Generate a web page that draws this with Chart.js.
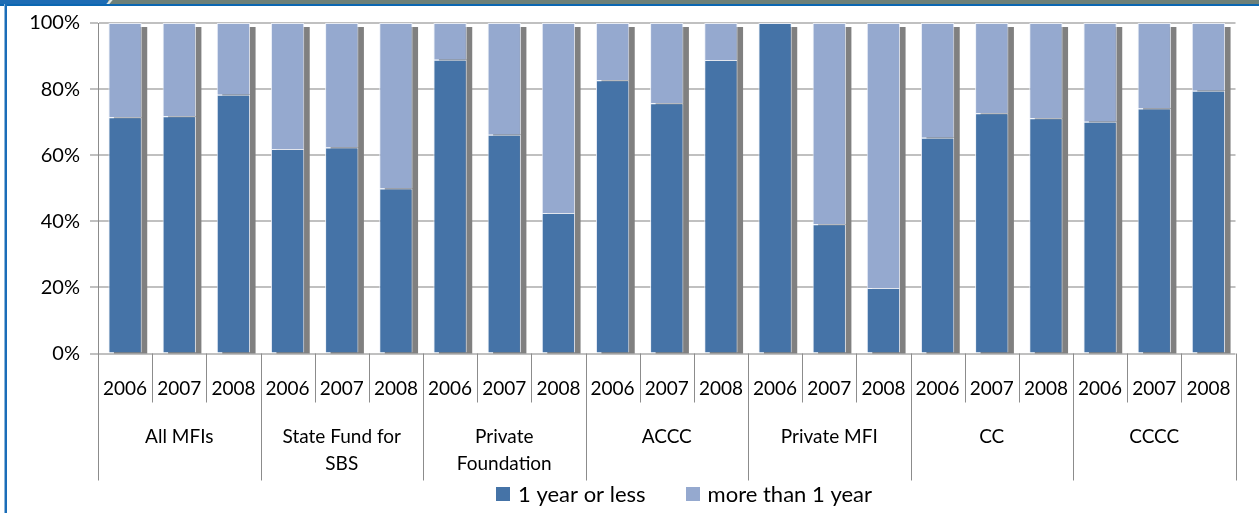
<!DOCTYPE html>
<html>
<head>
<meta charset="utf-8">
<script src="https://cdn.jsdelivr.net/npm/chart.js@4"></script>
<style>
  html, body { margin: 0; padding: 0; background: #fff; }
  #wrap { position: relative; width: 1259px; height: 513px; overflow: hidden; }
  #plot { position: absolute; left: 0; top: 0; }
  .frame { position: absolute; pointer-events: none; }
</style>
</head>
<body>
<div id="wrap">
  <canvas id="plot" width="1259" height="513"></canvas>
  <div class="frame" style="left:0;top:0;width:1259px;height:4px;background:#6d8078;"></div>
  <div class="frame" style="left:0;top:0;width:108px;height:4px;background:#1d6cb4;"></div>
  <div class="frame" style="left:108px;top:0;width:3px;height:4px;background:#dfe6e3;transform:skewX(-40deg);"></div>
  <div class="frame" style="left:0;top:4px;width:1259px;height:2px;background:#0b67b2;"></div>
  <div class="frame" style="left:4px;top:4px;width:1px;height:509px;background:#8db6da;"></div>
  <div class="frame" style="left:5px;top:4px;width:2px;height:509px;background:#1b6db8;"></div>
</div>
<script>
const years = ['2006', '2007', '2008'];
const groups = [
  ['All MFIs'],
  ['State Fund for', 'SBS'],
  ['Private', 'Foundation'],
  ['ACCC'],
  ['Private MFI'],
  ['CC'],
  ['CCCC']
];
const categories = groups.flatMap((g) => years.map((y) => g.join(' ') + ' ' + y));

const oneYearOrLess = [
  71.5, 71.8, 78.3,
  61.9, 62.3, 49.9,
  88.9, 66.2, 42.5,
  82.7, 75.7, 88.8,
  100, 39.1, 19.8,
  65.3, 72.7, 71.2,
  70.1, 74.1, 79.5
];
const moreThanOneYear = [
  28.5, 28.2, 21.7,
  38.1, 37.7, 50.1,
  11.1, 33.8, 57.5,
  17.3, 24.3, 11.2,
  0, 60.9, 80.2,
  34.7, 27.3, 28.8,
  29.9, 25.9, 20.5
];
const yTicks = [0, 20, 40, 60, 80, 100];

const COLORS = {
  dark: '#4573a7',
  light: '#95a9cf',
  shadow: '#808080',
  grid: '#c0c0c0',
  axis: '#8c8c8c',
  text: '#000'
};
const FONT_FAMILY = 'Lato, "Liberation Sans", sans-serif';
const LEGEND = { centerX: 684, centerY: 495, box: 14, textGap: 8, itemGap: 40 };

// gray drop shadow behind each stacked column
const shadowPlugin = {
  id: 'columnShadow',
  beforeDatasetsDraw(chart) {
    const { ctx, chartArea } = chart;
    const top = chart.getDatasetMeta(1).data;
    const bottom = chart.getDatasetMeta(0).data;
    ctx.save();
    ctx.fillStyle = COLORS.shadow;
    top.forEach((bar, i) => {
      const w = bar.width;
      const yTop = Math.min(bar.y, bottom[i].y) + 4;
      ctx.fillRect(bar.x - w / 2 + 5.5, yTop, w, chartArea.bottom - yTop);
    });
    ctx.restore();
  }
};

// two level category axis (years, then group names) and the legend row
const groupAxisPlugin = {
  id: 'groupAxis',
  afterDraw(chart) {
    const { ctx, chartArea } = chart;
    const n = categories.length;
    const step = (chartArea.right - chartArea.left) / n;
    const base = chartArea.bottom;
    ctx.save();
    ctx.strokeStyle = COLORS.axis;
    ctx.lineWidth = 1;
    for (let i = 0; i <= n; i++) {
      const x = Math.round(chartArea.left + i * step) + 0.5;
      const len = i % years.length === 0 ? 127 : 49;
      ctx.beginPath();
      ctx.moveTo(x, base);
      ctx.lineTo(x, base + len);
      ctx.stroke();
    }
    ctx.fillStyle = COLORS.text;
    ctx.font = '19px ' + FONT_FAMILY;
    ctx.textAlign = 'center';
    ctx.textBaseline = 'middle';
    for (let i = 0; i < n; i++) {
      ctx.fillText(years[i % years.length], chartArea.left + (i + 0.5) * step, base + 35);
    }
    groups.forEach((lines, g) => {
      const cx = chartArea.left + (g * years.length + years.length / 2) * step;
      lines.forEach((line, k) => {
        ctx.fillText(line, cx, base + 83 + k * 27);
      });
    });

    // legend
    ctx.font = '22px ' + FONT_FAMILY;
    ctx.textAlign = 'left';
    const items = chart.data.datasets.map((ds) => ({
      label: ds.label,
      color: ds.backgroundColor,
      width: LEGEND.box + LEGEND.textGap + ctx.measureText(ds.label).width
    }));
    const total = items.reduce((s, it) => s + it.width, 0) + LEGEND.itemGap * (items.length - 1);
    let x = LEGEND.centerX - total / 2;
    items.forEach((it) => {
      ctx.fillStyle = it.color;
      ctx.fillRect(Math.round(x), Math.round(LEGEND.centerY - LEGEND.box / 2 - 1), LEGEND.box, LEGEND.box);
      ctx.fillStyle = COLORS.text;
      ctx.fillText(it.label, x + LEGEND.box + LEGEND.textGap, LEGEND.centerY);
      x += it.width + LEGEND.itemGap;
    });
    ctx.restore();
  }
};

new Chart(document.getElementById('plot'), {
  type: 'bar',
  data: {
    labels: categories,
    datasets: [
      {
        label: '1 year or less',
        data: oneYearOrLess,
        backgroundColor: COLORS.dark,
        borderColor: 'rgba(235,240,248,0.9)',
        borderWidth: 1
      },
      {
        label: 'more than 1 year',
        data: moreThanOneYear,
        backgroundColor: COLORS.light,
        borderColor: 'rgba(235,240,248,0.9)',
        borderWidth: 1
      }
    ]
  },
  options: {
    responsive: false,
    animation: false,
    events: [],
    layout: { padding: { top: 23, right: 23.5, bottom: 0, left: 0 } },
    datasets: {
      bar: { categoryPercentage: 1, barPercentage: 0.615 }
    },
    scales: {
      x: {
        stacked: true,
        ticks: { display: false },
        grid: { display: false },
        border: { display: false },
        afterFit: (scale) => { scale.height = 159.5; }
      },
      y: {
        stacked: true,
        min: 0,
        max: 100,
        afterBuildTicks: (scale) => { scale.ticks = yTicks.map((v) => ({ value: v })); },
        afterFit: (scale) => { scale.width = 98; },
        ticks: {
          padding: 10,
          color: COLORS.text,
          font: { family: FONT_FAMILY, size: 20 },
          callback: (v) => v + '%'
        },
        grid: { color: COLORS.grid, lineWidth: 2, tickLength: 8, tickColor: COLORS.grid },
        border: { color: COLORS.axis, width: 1 }
      }
    },
    plugins: {
      legend: { display: false },
      tooltip: { enabled: false }
    }
  },
  plugins: [shadowPlugin, groupAxisPlugin]
});
</script>
</body>
</html>
